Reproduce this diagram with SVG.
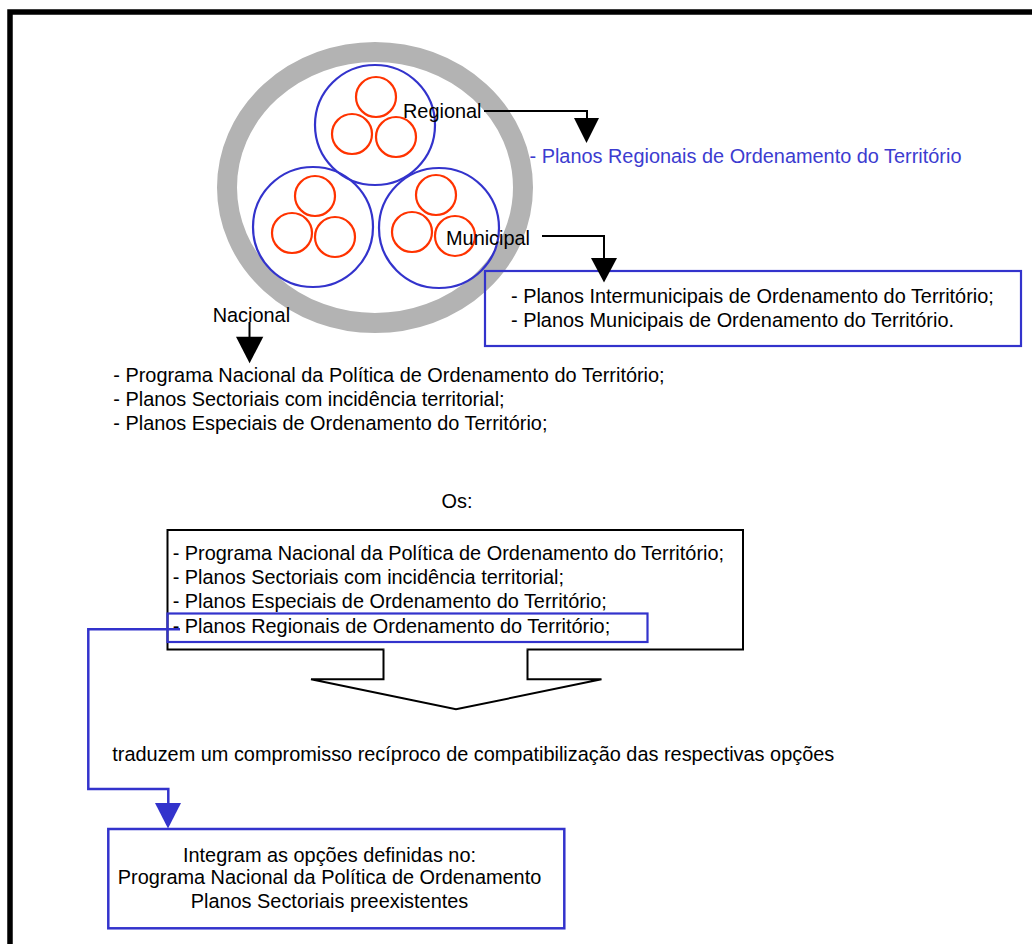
<svg xmlns="http://www.w3.org/2000/svg" width="1032" height="944" viewBox="0 0 1032 944">
<defs>
<style>
text{font-family:"Liberation Sans",Arial,sans-serif;font-size:19.9px;fill:#000}
.blue{fill:#3c3cd0}
.red{fill:none;stroke:#ff3300;stroke-width:2.2}
.bc{fill:none;stroke:#3333cc;stroke-width:2.2}
.k{fill:none;stroke:#000;stroke-width:2}
.kf{fill:#000;stroke:none}
.bl{fill:none;stroke:#3333cc;stroke-width:2.5}
.blf{fill:#3333cc;stroke:none}
</style>
</defs>
<rect width="1032" height="944" fill="#fff"/>
<rect id="frame" x="10" y="12" width="1050" height="1000" fill="none" stroke="#000" stroke-width="5.5"/>

<g id="ring">
<ellipse cx="375" cy="187.5" rx="148" ry="135.5" fill="none" stroke="#b3b3b3" stroke-width="20"/>
</g>
<g id="regional-circle">
<circle cx="375" cy="125" r="60" class="bc"/>
<circle cx="376" cy="97" r="20" class="red"/>
<circle cx="352" cy="134" r="20" class="red"/>
<circle cx="396" cy="137" r="20" class="red"/>
</g>
<g id="nacional-circle">
<circle cx="313" cy="227" r="60" class="bc"/>
<circle cx="315" cy="196" r="20" class="red"/>
<circle cx="292" cy="233" r="20" class="red"/>
<circle cx="335" cy="237" r="20" class="red"/>
</g>
<g id="municipal-circle">
<circle cx="439" cy="228" r="60" class="bc"/>
<circle cx="436" cy="195" r="20" class="red"/>
<circle cx="412" cy="232" r="20" class="red"/>
<circle cx="455" cy="236" r="20" class="red"/>
</g>

<g id="label-regional"><text x="403" y="118">Regional</text></g>
<g id="label-municipal"><text x="446" y="245">Municipal</text></g>
<g id="label-nacional"><text x="212.7" y="321.7">Nacional</text></g>

<g id="regional-text"><text class="blue" x="529.5" y="163">- Planos Regionais de Ordenamento do Território</text></g>

<g id="municipal-box">
<rect x="485" y="271" width="536" height="75" class="bc"/>
<text x="511" y="303.3">- Planos Intermunicipais de Ordenamento do Território;</text>
<text x="511" y="327.3">- Planos Municipais de Ordenamento do Território.</text>
</g>

<g id="nacional-list">
<text x="113.3" y="382">- Programa Nacional da Política de Ordenamento do Território;</text>
<text x="113.3" y="406">- Planos Sectoriais com incidência territorial;</text>
<text x="113.3" y="430">- Planos Especiais de Ordenamento do Território;</text>
</g>

<g id="os-label"><text x="457" y="508" text-anchor="middle">Os:</text></g>

<g id="os-box">
<rect x="167.5" y="530" width="575.5" height="119.5" class="k"/>
<text x="172.7" y="560">- Programa Nacional da Política de Ordenamento do Território;</text>
<text x="172.7" y="584">- Planos Sectoriais com incidência territorial;</text>
<text x="172.7" y="607.7">- Planos Especiais de Ordenamento do Território;</text>
<text x="172.7" y="633.3">- Planos Regionais de Ordenamento do Território;</text>
<rect id="highlight" x="167.5" y="613.5" width="480" height="28.5" fill="none" stroke="#3333cc" stroke-width="2.2"/>
</g>

<g id="traduzem"><text x="112.3" y="760.7">traduzem um compromisso recíproco de compatibilização das respectivas opções</text></g>

<g id="integram-box">
<rect x="108.3" y="829" width="456" height="99.3" class="bl"/>
<text x="329.5" y="861.7" text-anchor="middle">Integram as opções definidas no:</text>
<text x="329.5" y="884.3" text-anchor="middle">Programa Nacional da Política de Ordenamento</text>
<text x="329.5" y="908.3" text-anchor="middle">Planos Sectoriais preexistentes</text>
</g>

<g id="connectors">
<polyline points="484,111 587,111 587,119" class="k"/>
<polygon points="574,118 599,118 586.5,143" class="kf"/>
<polyline points="542,236 604,236 604,259" class="k"/>
<polygon points="591,258 617,258 604,282.5" class="kf"/>
<line x1="249.5" y1="322" x2="249.5" y2="338" class="k"/>
<polygon points="236,336.7 263.3,336.7 249.6,363.3" class="kf"/>
<rect x="384.5" y="646" width="142" height="5" fill="#fff"/>
<path d="M383.5,649.5 V679.3 H311 L456,709.3 L601.5,679.3 H527.5 V649.5" fill="#fff" stroke="#000" stroke-width="2"/>
<polyline points="180,629.3 88.3,629.3 88.3,789 168.3,789 168.3,804" class="bl"/>
<polygon points="155,803 181,803 168,828.5" class="blf"/>
</g>
</svg>
